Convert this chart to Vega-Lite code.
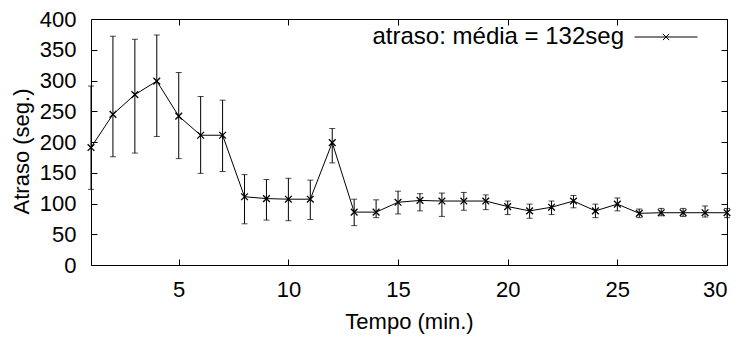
{
  "$schema": "https://vega.github.io/schema/vega-lite/v6.json",
  "width": 636,
  "height": 246,
  "autosize": "none",
  "padding": {"left": 91, "top": 19, "right": 16, "bottom": 75},
  "background": "white",
  "config": {
    "font": "Liberation Sans",
    "view": {"stroke": "black", "strokeWidth": 1},
    "axis": {
      "labelFont": "Liberation Sans",
      "labelFontSize": 22,
      "labelColor": "black",
      "titleFont": "Liberation Sans",
      "titleFontSize": 22,
      "titleFontWeight": "normal",
      "titleColor": "black",
      "grid": false,
      "domain": false,
      "tickColor": "black",
      "tickSize": -6,
      "tickWidth": 1
    },
    "legend": {"padding": 0}
  },
  "data": {
    "values": [
      {"t": 1, "y": 191, "lo": 123, "hi": 291},
      {"t": 2, "y": 245, "lo": 176, "hi": 372},
      {"t": 3, "y": 277, "lo": 182, "hi": 367},
      {"t": 4, "y": 299, "lo": 209, "hi": 374},
      {"t": 5, "y": 242, "lo": 173, "hi": 313},
      {"t": 6, "y": 211, "lo": 149, "hi": 274},
      {"t": 7, "y": 211, "lo": 152, "hi": 268},
      {"t": 8, "y": 111, "lo": 67, "hi": 147},
      {"t": 9, "y": 108, "lo": 73, "hi": 139},
      {"t": 10, "y": 107, "lo": 72, "hi": 141},
      {"t": 11, "y": 107, "lo": 74, "hi": 138},
      {"t": 12, "y": 199, "lo": 166, "hi": 222},
      {"t": 13, "y": 86, "lo": 64, "hi": 107},
      {"t": 14, "y": 86, "lo": 77, "hi": 106},
      {"t": 15, "y": 102, "lo": 83, "hi": 120},
      {"t": 16, "y": 105, "lo": 88, "hi": 116},
      {"t": 17, "y": 104, "lo": 79, "hi": 117},
      {"t": 18, "y": 104, "lo": 89, "hi": 118},
      {"t": 19, "y": 104, "lo": 90, "hi": 114},
      {"t": 20, "y": 95, "lo": 82, "hi": 104},
      {"t": 21, "y": 88, "lo": 76, "hi": 99},
      {"t": 22, "y": 94, "lo": 82, "hi": 104},
      {"t": 23, "y": 104, "lo": 93, "hi": 113},
      {"t": 24, "y": 88, "lo": 77, "hi": 99},
      {"t": 25, "y": 99, "lo": 88, "hi": 109},
      {"t": 26, "y": 84, "lo": 77, "hi": 91},
      {"t": 27, "y": 85, "lo": 80, "hi": 92},
      {"t": 28, "y": 85, "lo": 79, "hi": 92},
      {"t": 29, "y": 85, "lo": 78, "hi": 96},
      {"t": 30, "y": 85, "lo": 77, "hi": 92}
    ]
  },
  "layer": [
    {
      "mark": {"type": "rule", "color": "black", "strokeWidth": 1},
      "encoding": {
        "x": {"field": "t", "type": "quantitative", "scale": {"domain": [1, 30], "nice": false, "zero": false},
          "axis": {"orient": "bottom", "values": [5, 10, 15, 20, 25, 30], "title": "Tempo (min.)", "labelPadding": 20, "titlePadding": 11}},
        "y": {"field": "lo", "type": "quantitative", "scale": {"domain": [0, 400], "nice": false},
          "axis": {"orient": "left", "values": [0, 50, 100, 150, 200, 250, 300, 350, 400], "title": "Atraso (seg.)", "labelPadding": 21, "titlePadding": 6, "titleY": 132}},
        "y2": {"field": "hi"}
      }
    },
    {
      "mark": {"type": "tick", "orient": "horizontal", "size": 6, "thickness": 1, "color": "black"},
      "encoding": {
        "x": {"field": "t", "type": "quantitative", "axis": {"orient": "top", "values": [5, 10, 15, 20, 25, 30], "labels": false, "title": null}},
        "y": {"field": "lo", "type": "quantitative", "axis": {"orient": "right", "values": [0, 50, 100, 150, 200, 250, 300, 350, 400], "labels": false, "title": null}}
      }
    },
    {
      "mark": {"type": "tick", "orient": "horizontal", "size": 6, "thickness": 1, "color": "black"},
      "encoding": {
        "x": {"field": "t", "type": "quantitative", "axis": null},
        "y": {"field": "hi", "type": "quantitative", "axis": null}
      }
    },
    {
      "mark": {"type": "line", "strokeWidth": 1},
      "encoding": {
        "x": {"field": "t", "type": "quantitative", "axis": null},
        "y": {"field": "y", "type": "quantitative", "axis": null},
        "color": {"datum": "atraso: média = 132seg", "type": "nominal", "scale": {"range": ["black"]},
          "legend": {
            "orient": "none", "legendX": 543, "legendY": -14, "title": null,
            "symbolType": "M-1,0L1,0M-0.1,-0.1L0.1,0.1M-0.1,0.1L0.1,-0.1",
            "symbolSize": 3969, "symbolStrokeColor": "black", "symbolStrokeWidth": 1, "symbolFillColor": "transparent",
            "labelAlign": "right", "labelOffset": -74, "labelFont": "Liberation Sans", "labelFontSize": 24, "labelColor": "black", "labelLimit": 400
          }}
      }
    },
    {
      "mark": {"type": "point", "shape": "M-1,-1L1,1M-1,1L1,-1", "size": 45, "filled": false, "color": "black", "strokeWidth": 1.3, "opacity": 1},
      "encoding": {
        "x": {"field": "t", "type": "quantitative", "axis": null},
        "y": {"field": "y", "type": "quantitative", "axis": null}
      }
    }
  ],
  "resolve": {"axis": {"x": "independent", "y": "independent"}}
}
